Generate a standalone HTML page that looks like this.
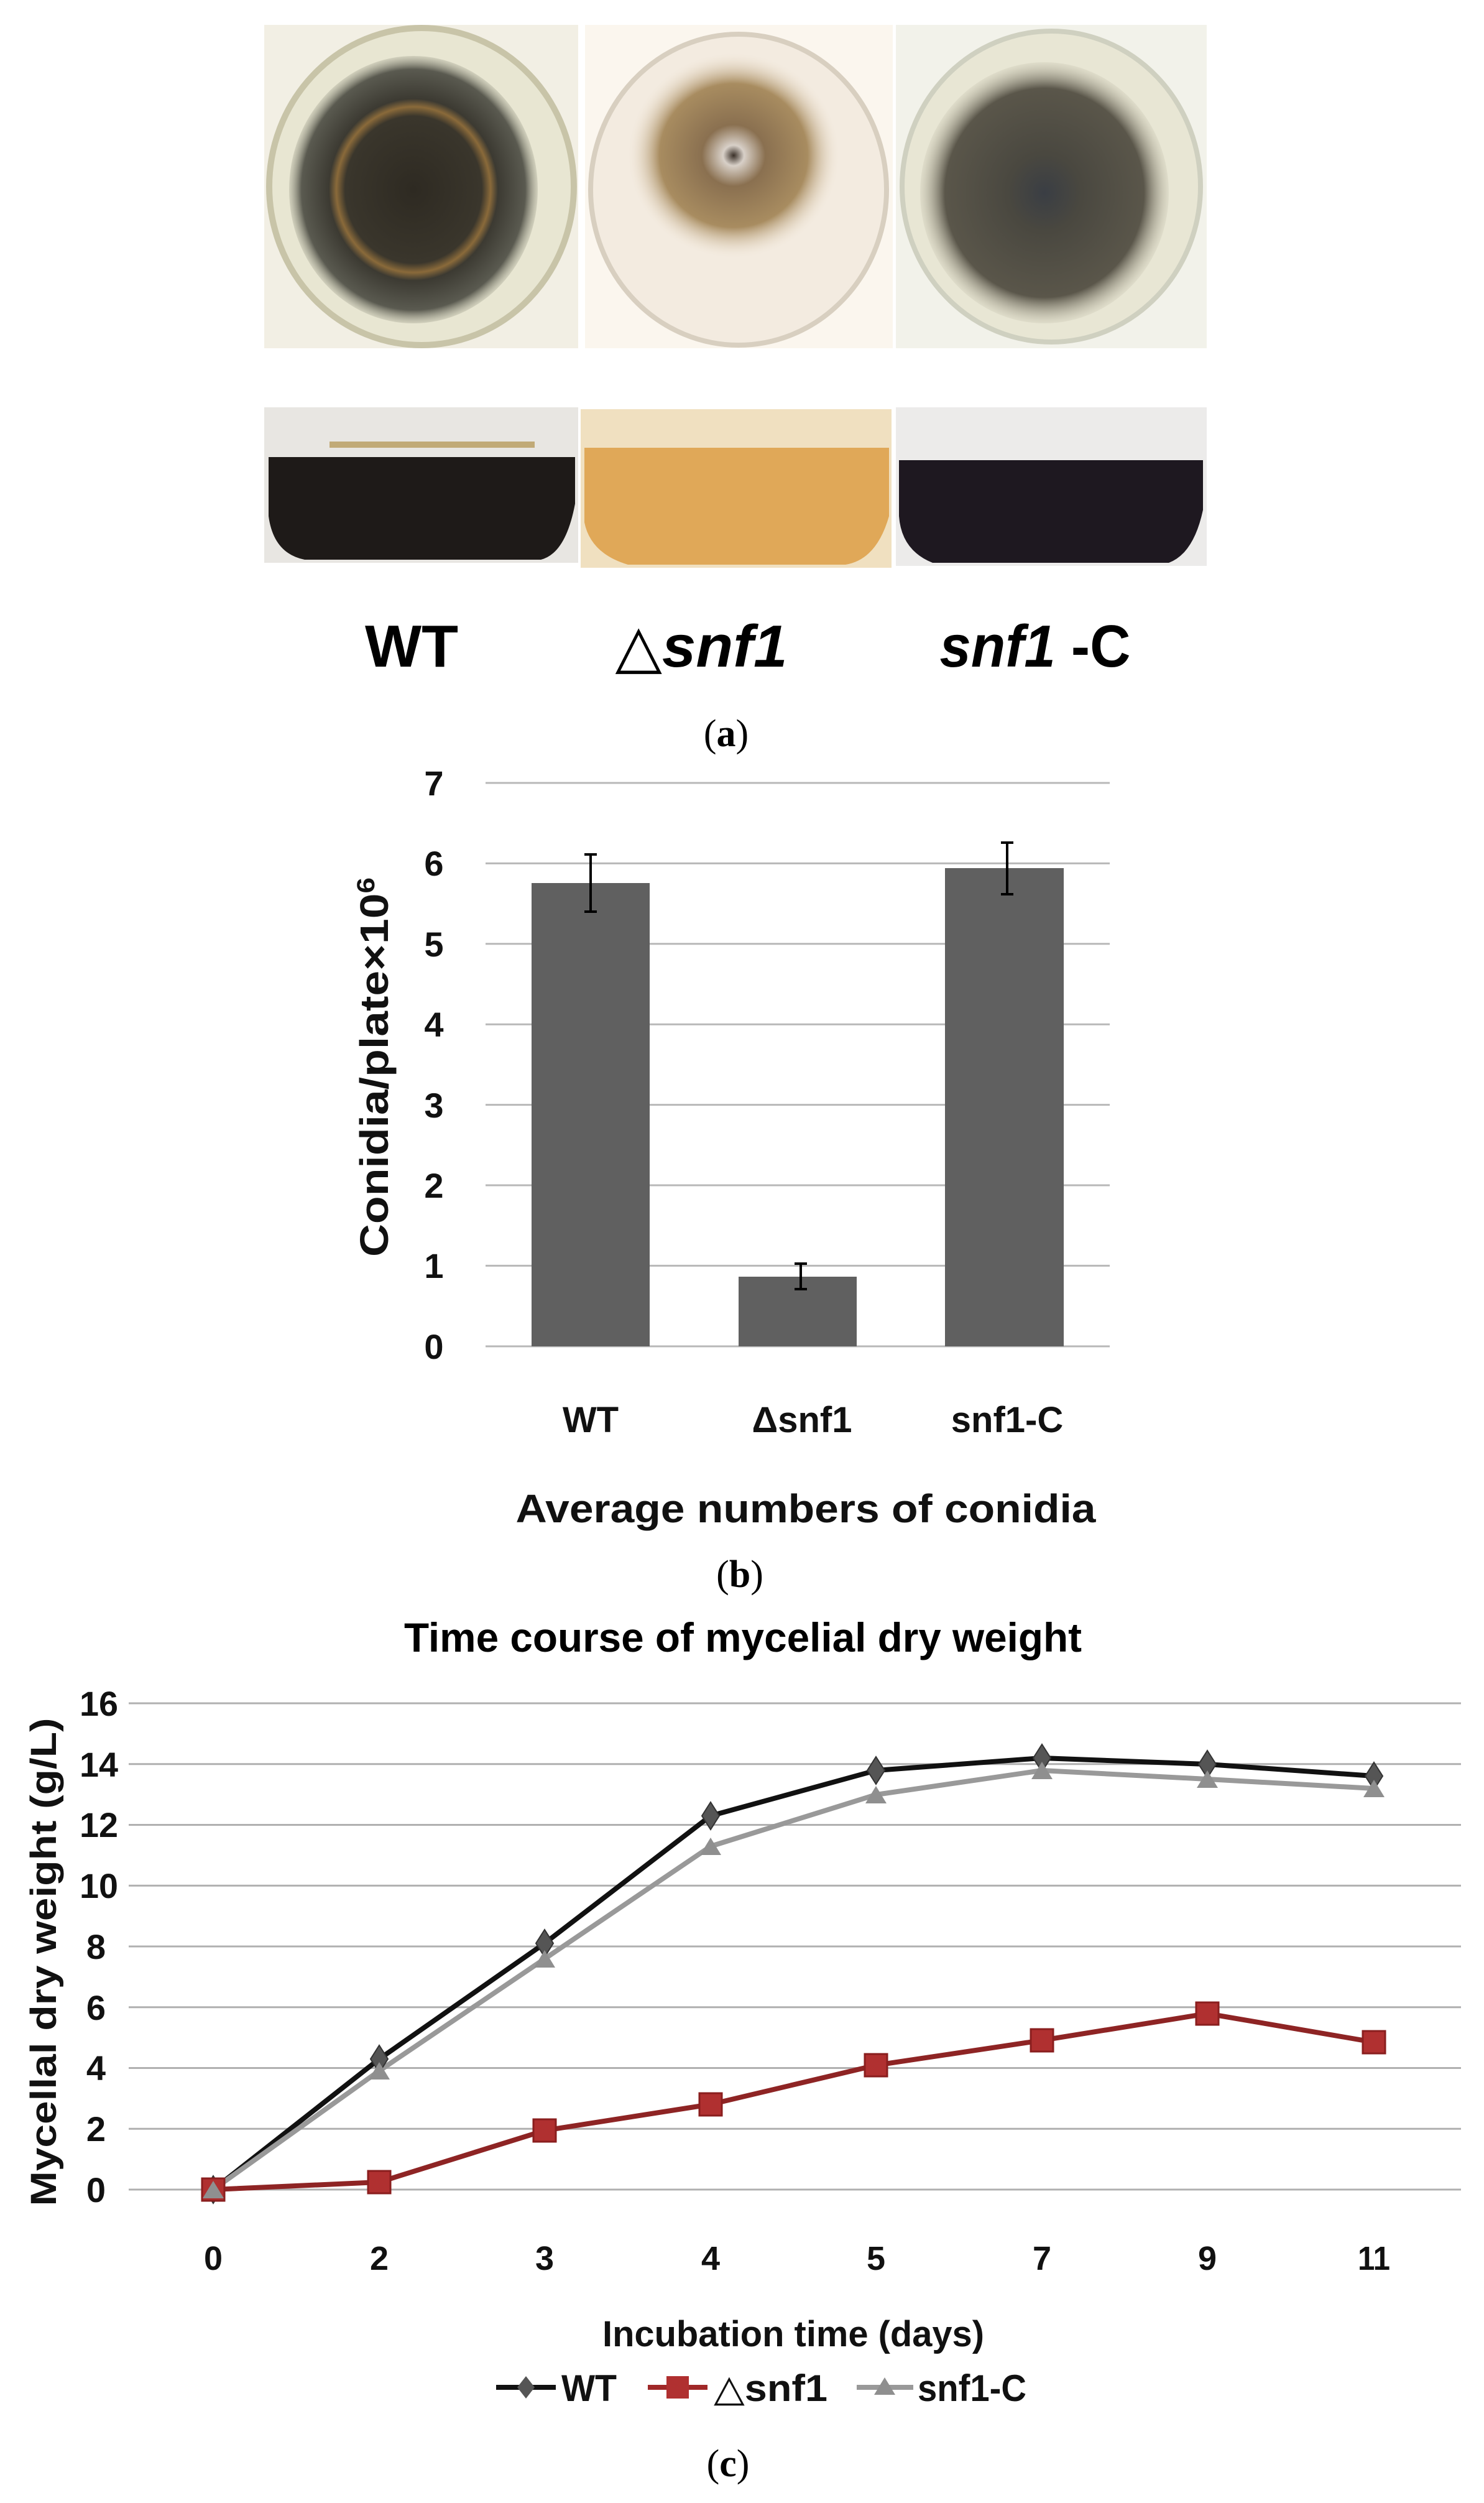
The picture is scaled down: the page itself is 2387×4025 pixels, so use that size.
<!DOCTYPE html>
<html><head><meta charset="utf-8"><style>html,body{margin:0;padding:0;background:#fff}svg{display:block}</style></head>
<body>
<svg width="2387" height="4025" viewBox="0 0 2387 4025" xmlns="http://www.w3.org/2000/svg">
<defs>
<radialGradient id="wtc" cx="0.5" cy="0.5" r="0.5"><stop offset="0" stop-color="#2e2a22"/><stop offset="0.55" stop-color="#3a362c"/><stop offset="0.62" stop-color="#8a6a3a"/><stop offset="0.68" stop-color="#3c3a32"/><stop offset="0.9" stop-color="#5a5a50"/><stop offset="1" stop-color="#9a9a88" stop-opacity="0.3"/></radialGradient>
<radialGradient id="dc" cx="0.5" cy="0.5" r="0.5"><stop offset="0" stop-color="#3a3028"/><stop offset="0.1" stop-color="#d8d0c8"/><stop offset="0.3" stop-color="#8a7050"/><stop offset="0.7" stop-color="#a88c60"/><stop offset="1" stop-color="#efe4d4" stop-opacity="0"/></radialGradient>
<radialGradient id="cc" cx="0.5" cy="0.5" r="0.5"><stop offset="0" stop-color="#3a3e44"/><stop offset="0.3" stop-color="#4a4840"/><stop offset="0.8" stop-color="#5a564a"/><stop offset="1" stop-color="#b8b4a0" stop-opacity="0.2"/></radialGradient>
</defs>
<rect width="2387" height="4025" fill="#fff"/>
<!-- plates -->
<rect x="425" y="40" width="505" height="520" fill="#f2efe4"/>
<rect x="941" y="40" width="495" height="520" fill="#fbf6ee"/>
<rect x="1441" y="40" width="500" height="520" fill="#f2f2ea"/>
<ellipse cx="678" cy="300" rx="245" ry="255" fill="#e8e6d2" stroke="#c8c4a8" stroke-width="10"/>
<ellipse cx="665" cy="305" rx="200" ry="215" fill="url(#wtc)"/>
<ellipse cx="1188" cy="305" rx="238" ry="250" fill="#f3ebe0" stroke="#d8cfc0" stroke-width="8"/>
<ellipse cx="1180" cy="250" rx="170" ry="165" fill="url(#dc)"/>
<ellipse cx="1691" cy="300" rx="240" ry="250" fill="#e8e6d4" stroke="#cfd0c0" stroke-width="8"/>
<ellipse cx="1680" cy="310" rx="200" ry="210" fill="url(#cc)"/>
<!-- flasks -->
<rect x="425" y="655" width="505" height="250" fill="#e8e6e2"/>
<path d="M432 735 L925 735 L925 810 Q910 890 870 900 L490 900 Q440 890 432 830 Z" fill="#1e1a18"/>
<rect x="530" y="710" width="330" height="10" fill="#b0904a" opacity="0.7"/>
<rect x="934" y="658" width="500" height="255" fill="#f0e0c0"/>
<path d="M940 720 L1430 720 L1430 830 Q1410 900 1360 908 L1010 908 Q950 890 940 840 Z" fill="#e0a858"/>
<rect x="1441" y="655" width="500" height="255" fill="#ecebea"/>
<path d="M1446 740 L1935 740 L1935 820 Q1920 890 1880 905 L1500 905 Q1450 885 1446 830 Z" fill="#1e1820"/>
<!-- labels a -->
<g font-family="Liberation Sans, sans-serif" font-weight="bold" font-size="96" fill="#000">
<text x="662" y="1072" text-anchor="middle" textLength="150" lengthAdjust="spacingAndGlyphs">WT</text>
<text x="1128" y="1072" text-anchor="middle" textLength="277" lengthAdjust="spacingAndGlyphs"><tspan font-weight="normal">△</tspan><tspan font-style="italic">snf1</tspan></text>
<text x="1665" y="1072" text-anchor="middle" textLength="307" lengthAdjust="spacingAndGlyphs"><tspan font-style="italic">snf1</tspan> -C</text>
</g>
<text x="1168" y="1200" text-anchor="middle" font-family="Liberation Serif, serif" font-size="62">(<tspan font-weight="bold">a</tspan>)</text>
<!-- chart b -->
<g stroke="#b8b8b8" stroke-width="3">
<line x1="781" x2="1785" y1="1259" y2="1259"/><line x1="781" x2="1785" y1="1388.4" y2="1388.4"/>
<line x1="781" x2="1785" y1="1517.8" y2="1517.8"/><line x1="781" x2="1785" y1="1647.2" y2="1647.2"/>
<line x1="781" x2="1785" y1="1776.6" y2="1776.6"/><line x1="781" x2="1785" y1="1906" y2="1906"/>
<line x1="781" x2="1785" y1="2035.4" y2="2035.4"/><line x1="781" x2="1785" y1="2165" y2="2165"/>
</g>
<rect x="855" y="1420" width="190" height="745" fill="#606060"/>
<rect x="1188" y="2053" width="190" height="112" fill="#606060"/>
<rect x="1520" y="1396" width="191" height="769" fill="#606060"/>
<g stroke="#000" stroke-width="4" fill="none">
<path d="M950 1374 V1466 M940 1374 H960 M940 1466 H960"/>
<path d="M1288 2032 V2073 M1278 2032 H1298 M1278 2073 H1298"/>
<path d="M1620 1355 V1438 M1610 1355 H1630 M1610 1438 H1630"/>
</g>
<g font-family="Liberation Sans, sans-serif" font-weight="bold" font-size="56" fill="#111" text-anchor="middle">
<text x="698" y="1279">7</text><text x="698" y="1408">6</text><text x="698" y="1538">5</text><text x="698" y="1667">4</text>
<text x="698" y="1797">3</text><text x="698" y="1926">2</text><text x="698" y="2055">1</text><text x="698" y="2185">0</text>
<text x="950" y="2303" font-size="58">WT</text>
<text x="1290" y="2303" font-size="58">Δsnf1</text>
<text x="1620" y="2303" font-size="58">snf1-C</text>
<text x="1296" y="2448" font-size="64" textLength="933" lengthAdjust="spacingAndGlyphs">Average numbers of conidia</text>
<text transform="translate(624 1716) rotate(-90)" font-size="64" textLength="610" lengthAdjust="spacingAndGlyphs">Conidia/plate×10<tspan font-size="40" dy="-22">6</tspan></text>
</g>
<text x="1190" y="2552" text-anchor="middle" font-family="Liberation Serif, serif" font-size="62">(<tspan font-weight="bold">b</tspan>)</text>
<!-- chart c -->
<text x="1195" y="2656" text-anchor="middle" font-family="Liberation Sans, sans-serif" font-weight="bold" font-size="66" textLength="1090" lengthAdjust="spacingAndGlyphs">Time course of mycelial dry weight</text>
<g stroke="#b0b0b0" stroke-width="3">
<line x1="207" x2="2350" y1="2739" y2="2739"/><line x1="207" x2="2350" y1="2836.75" y2="2836.75"/>
<line x1="207" x2="2350" y1="2934.5" y2="2934.5"/><line x1="207" x2="2350" y1="3032.25" y2="3032.25"/>
<line x1="207" x2="2350" y1="3130" y2="3130"/><line x1="207" x2="2350" y1="3227.75" y2="3227.75"/>
<line x1="207" x2="2350" y1="3325.5" y2="3325.5"/><line x1="207" x2="2350" y1="3423.25" y2="3423.25"/>
<line x1="207" x2="2350" y1="3521" y2="3521"/>
</g>
<g font-family="Liberation Sans, sans-serif" font-weight="bold" font-size="56" fill="#111" text-anchor="end">
<text x="190" y="2759" textLength="62" lengthAdjust="spacingAndGlyphs">16</text>
<text x="190" y="2857" textLength="62" lengthAdjust="spacingAndGlyphs">14</text>
<text x="190" y="2954" textLength="62" lengthAdjust="spacingAndGlyphs">12</text>
<text x="190" y="3052" textLength="62" lengthAdjust="spacingAndGlyphs">10</text>
<text x="170" y="3150">8</text><text x="170" y="3248">6</text><text x="170" y="3345">4</text>
<text x="170" y="3443">2</text><text x="170" y="3541">0</text>
</g>
<g font-family="Liberation Sans, sans-serif" font-weight="bold" font-size="54" fill="#111" text-anchor="middle">
<text x="343" y="3650">0</text><text x="610" y="3650">2</text><text x="876" y="3650">3</text><text x="1143" y="3650">4</text>
<text x="1409" y="3650">5</text><text x="1676" y="3650">7</text><text x="1942" y="3650">9</text><text x="2210" y="3650" textLength="52" lengthAdjust="spacingAndGlyphs">11</text>
<text x="1276" y="3773" font-size="58" textLength="614" lengthAdjust="spacingAndGlyphs">Incubation time (days)</text>
<text transform="translate(90 3155) rotate(-90)" font-size="58" textLength="785" lengthAdjust="spacingAndGlyphs">Mycellal dry weight (g/L)</text>
</g>
<!-- series -->
<polyline fill="none" stroke="#111" stroke-width="8" stroke-linejoin="round" points="343,3521 610,3311 876,3125 1143,2920 1409,2847 1676,2827 1942,2837 2210,2856"/>
<polyline fill="none" stroke="#999" stroke-width="8" stroke-linejoin="round" points="343,3521 610,3330 876,3150 1143,2969 1409,2886 1676,2847 1942,2861 2210,2876"/>
<polyline fill="none" stroke="#8e2424" stroke-width="8" stroke-linejoin="round" points="343,3521 610,3509 876,3426 1143,3384 1409,3321 1676,3281 1942,3238 2210,3284"/>
<g fill="#555" stroke="#333" stroke-width="2">
<path d="M343 3499 l14 22 l-14 22 l-14 -22z"/><path d="M610 3289 l14 22 l-14 22 l-14 -22z"/>
<path d="M876 3103 l14 22 l-14 22 l-14 -22z"/><path d="M1143 2898 l14 22 l-14 22 l-14 -22z"/>
<path d="M1409 2825 l14 22 l-14 22 l-14 -22z"/><path d="M1676 2805 l14 22 l-14 22 l-14 -22z"/>
<path d="M1942 2815 l14 22 l-14 22 l-14 -22z"/><path d="M2210 2834 l14 22 l-14 22 l-14 -22z"/>
</g>
<g fill="#b03030" stroke="#8a1e1e" stroke-width="3">
<rect x="325" y="3503" width="36" height="36"/><rect x="592" y="3491" width="36" height="36"/>
<rect x="858" y="3408" width="36" height="36"/><rect x="1125" y="3366" width="36" height="36"/>
<rect x="1391" y="3303" width="36" height="36"/><rect x="1658" y="3263" width="36" height="36"/>
<rect x="1924" y="3220" width="36" height="36"/><rect x="2192" y="3266" width="36" height="36"/>
</g>
<g fill="#8f8f8f">
<path d="M343 3507 l17 28 h-34z"/><path d="M610 3316 l17 28 h-34z"/><path d="M876 3136 l17 28 h-34z"/>
<path d="M1143 2955 l17 28 h-34z"/><path d="M1409 2872 l17 28 h-34z"/><path d="M1676 2833 l17 28 h-34z"/>
<path d="M1942 2847 l17 28 h-34z"/><path d="M2210 2862 l17 28 h-34z"/>
</g>
<!-- legend -->
<line x1="798" x2="894" y1="3839" y2="3839" stroke="#111" stroke-width="8"/>
<path d="M846 3821 l14 18 l-14 18 l-14 -18z" fill="#555"/>
<line x1="1042" x2="1138" y1="3839" y2="3839" stroke="#a02828" stroke-width="8"/>
<rect x="1072" y="3821" width="36" height="36" fill="#b03030"/>
<line x1="1378" x2="1469" y1="3839" y2="3839" stroke="#999" stroke-width="8"/>
<path d="M1423 3823 l17 28 h-34z" fill="#8f8f8f"/>
<g font-family="Liberation Sans, sans-serif" font-weight="bold" font-size="60" fill="#111">
<text x="903" y="3861" textLength="89" lengthAdjust="spacingAndGlyphs">WT</text>
<text x="1148" y="3861" textLength="183" lengthAdjust="spacingAndGlyphs"><tspan font-weight="normal">△</tspan>snf1</text>
<text x="1476" y="3861" textLength="175" lengthAdjust="spacingAndGlyphs">snf1-C</text>
</g>
<text x="1171" y="3982" text-anchor="middle" font-family="Liberation Serif, serif" font-size="62">(<tspan font-weight="bold">c</tspan>)</text>
</svg>
</body></html>
